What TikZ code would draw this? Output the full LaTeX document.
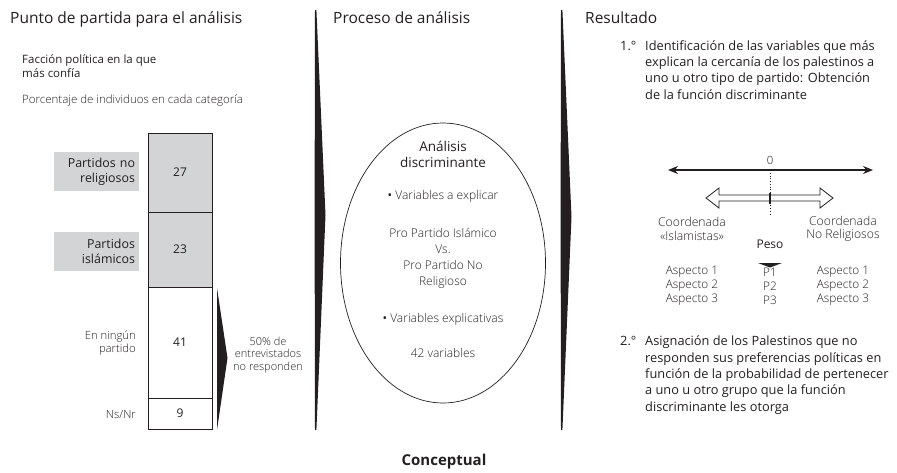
\documentclass[tikz,border=0pt]{standalone}
\usepackage{fontspec}
\setmainfont{Open Sans}
\IfFontExistsTF{Open Sans Light}{\newfontfamily\lightfont{Open Sans Light}}{\newcommand\lightfont{\color{black!75}}}
\usetikzlibrary{shapes.geometric,arrows.meta}
\definecolor{barfill}{RGB}{211,212,214}
\definecolor{ink}{RGB}{35,31,32}
\newcommand\mybul{{\rmfamily\textbullet}}
\tikzset{
  head/.style={anchor=base west,font=\fontsize{15.5}{18}\selectfont,inner sep=0,text=ink},
  reg/.style={font=\fontsize{11.5}{12}\selectfont,inner sep=0,text=ink},
  lt/.style={font=\fontsize{11.3}{12.5}\selectfont\lightfont,inner sep=0,text=ink},
  ltb/.style={font=\fontsize{12}{16.5}\selectfont\lightfont,inner sep=0,align=center,text=ink},
  regb/.style={font=\fontsize{13.5}{16}\selectfont,inner sep=0,align=center,text=ink},
  item/.style={font=\fontsize{12.8}{16.4}\selectfont,inner sep=0,anchor=north west,align=left,text=ink},
  barbox/.style={draw=ink,line width=0.8pt,minimum width=64pt,inner sep=0,font=\fontsize{12}{13}\selectfont,text=ink},
  labbox/.style={fill=barfill,minimum width=85pt,minimum height=39pt,text width=77pt,inner xsep=4pt,inner ysep=0,align=right,font=\fontsize{12.4}{15}\selectfont,text=ink},
  tab/.style={font=\fontsize{11.8}{14}\selectfont\lightfont,inner sep=0,align=center,text=ink},
  sep/.style={fill=ink},
}
\begin{document}
\begin{tikzpicture}[x=1pt,y=-1pt]
\useasboundingbox (0,0) rectangle (897,472);
% headings
\node[head] (h1) at (10,23) {Punto de partida para el análisis};
\node[head] (h2) at (333,23) {Proceso de análisis};
\node[head] (h3) at (585,23) {Resultado};
% left panel
\node[reg,anchor=north west,align=left] (fac) at (22,54.6) {\strut Facción política en la que\\más confía};
\node[lt,anchor=base west,font=\fontsize{11.5}{12.5}\selectfont\lightfont] (pct) at (22,103) {Porcentaje de individuos en cada categoría};
\node[barbox,fill=barfill,minimum height=79pt] (b27) at (180,172.5) {27};
\node[barbox,fill=barfill,minimum height=75pt] (b23) at (180,249.5) {23};
\node[barbox,fill=white,minimum height=111pt] (b41) at (180,342.5) {41};
\node[barbox,fill=white,minimum height=31pt] (b9) at (180,413.5) {9};
\node[labbox] (lnr) at (96.5,171.5) {Partidos no\\religiosos};
\node[labbox] (lis) at (96.5,251.5) {Partidos\\islámicos};
\node[lt,anchor=east,align=right] (lnin) at (136,343) {En ningún\\partido};
\node[lt,anchor=east] (lns) at (136,415) {Ns/Nr};
\fill[ink] (217,288) -- (227.5,358) -- (217,430) -- cycle;
\node[lt,align=center,font=\fontsize{11}{12.5}\selectfont\lightfont] (nores) at (268,355) {50\% de\\entrevistados\\no responden};
% separators
\fill[sep] (315,10) -- (316.4,10) -- (325.5,215) -- (316.4,430) -- (315,430) -- (314.6,215) -- cycle;
\fill[sep] (561,10) -- (562.4,10) -- (571.5,217) -- (562.4,430) -- (561,430) -- (560.6,217) -- cycle;
% middle panel
\node[draw=ink,line width=0.7pt,ellipse,minimum width=205pt,minimum height=280pt,inner sep=0] (ell) at (443,263) {};
\node[regb] (ad) at (443,154) {Análisis\\discriminante};
\node[ltb] (v1) at (443,196) {\mybul\ Variables a explicar};
\node[ltb] (pp) at (443,258) {Pro Partido Islámico\\[-0.5pt]Vs.\\[-0.5pt]Pro Partido No\\[-0.5pt]Religioso};
\node[ltb] (v2) at (443,319) {\mybul\ Variables explicativas};
\node[ltb] (v42) at (443,353) {42 variables};
\node[font=\fontsize{15}{18}\selectfont\bfseries,inner sep=0,text=ink] (conc) at (444,462) {Conceptual};
% right panel
\node[item] (n1) at (620,38.5) {\strut 1.°};
\node[item] (t1) at (645,38.5) {\strut Identificación de las variables que más\\explican la cercanía de los palestinos a\\uno u otro tipo de partido: Obtención\\de la función discriminante};
\coordinate (al) at (668,170);
\coordinate (ar) at (873,170);
\draw[ink,line width=1.3pt,{Stealth[length=10pt,width=8pt]}-{Stealth[length=10pt,width=8pt]}] (al) -- (ar);
\node[lt] (zero) at (770,160) {0};
\coordinate (dt) at (770,173);
\coordinate (db) at (770,216);
\draw[ink,line width=0.7pt,dotted] (dt) -- (db);
\draw[ink,line width=0.8pt,fill=white] (706,198) -- (719,188) -- (719,195) -- (820,195) -- (820,188) -- (833,198) -- (820,208) -- (820,201) -- (719,201) -- (719,208) -- cycle;
\coordinate (mt) at (770,193);
\coordinate (mb) at (770,204);
\draw[ink,line width=1.8pt] (mt) -- (mb);
\node[tab,font=\fontsize{12.2}{13.5}\selectfont\lightfont] (cl) at (692,229) {Coordenada\\«Islamistas»};
\node[tab,font=\fontsize{12.2}{13.5}\selectfont\lightfont] (cr) at (843,229) {Coordenada\\No Religiosos};
\node[reg,font=\fontsize{12}{13}\selectfont] (peso) at (770,244) {Peso};
\node[tab] (al1) at (692,286) {Aspecto 1\\Aspecto 2\\Aspecto 3};
\node[tab] (pw) at (770,286) {P1\\P2\\P3};
\node[tab] (ar1) at (843,286) {Aspecto 1\\Aspecto 2\\Aspecto 3};
\fill[ink] (758,263) -- (782,263) -- (770,267.5) -- cycle;
\node[item] (n2) at (620,334) {\strut 2.°};
\node[item] (t2) at (645,334) {\strut Asignación de los Palestinos que no\\responden sus preferencias políticas en\\función de la probabilidad de pertenecer\\a uno u otro grupo que la función\\discriminante les otorga};
\end{tikzpicture}
\end{document}
